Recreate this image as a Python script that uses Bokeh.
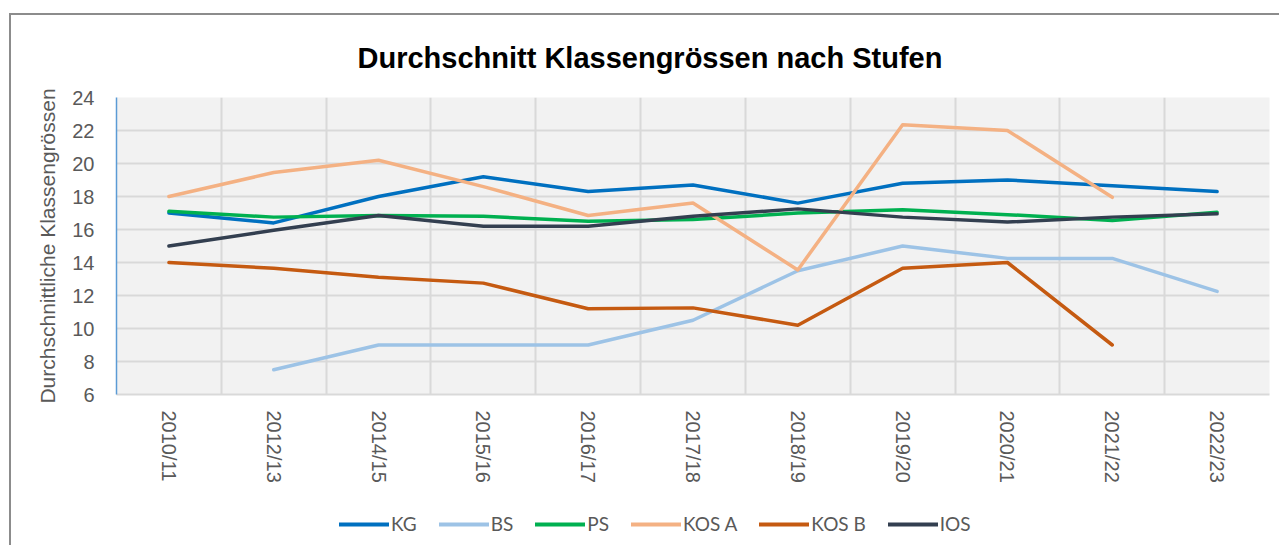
import numpy as np
from bokeh.plotting import figure
from bokeh.layouts import column
from bokeh.models import ColumnDataSource, FixedTicker, Legend, LegendItem, Range1d
from bokeh.embed import file_html
from bokeh.resources import INLINE

nan = np.nan
categories = ["2010/11", "2012/13", "2014/15", "2015/16", "2016/17", "2017/18",
              "2018/19", "2019/20", "2020/21", "2021/22", "2022/23"]
kg = [17.0, 16.4, 18.0, 19.2, 18.3, 18.7, 17.6, 18.8, 19.0, 18.65, 18.3]
bs = [nan, 7.5, 9.0, 9.0, 9.0, 10.5, 13.5, 15.0, 14.25, 14.25, 12.25]
ps = [17.1, 16.75, 16.85, 16.8, 16.5, 16.6, 17.0, 17.2, 16.9, 16.55, 17.05]
kos_a = [18.0, 19.45, 20.2, 18.6, 16.85, 17.6, 13.55, 22.35, 22.0, 17.95, nan]
kos_b = [14.0, 13.65, 13.1, 12.75, 11.2, 11.25, 10.2, 13.65, 14.0, 9.0, nan]
ios = [15.0, 15.95, 16.85, 16.2, 16.2, 16.8, 17.25, 16.75, 16.45, 16.75, 16.95]

series_names = ["KG", "BS", "PS", "KOS A", "KOS B", "IOS"]
series_values = [kg, bs, ps, kos_a, kos_b, ios]
series_colors = ["#0070C0", "#9DC3E6", "#00B050", "#F4B183", "#C55A11", "#333F50"]

FONT = "Liberation Sans"
GRAY = "#595959"
W = 1268

p = figure(width=W, height=470, output_backend="svg", toolbar_location=None,
           x_range=Range1d(-0.5, len(categories) - 0.5), y_range=Range1d(6, 24),
           min_border_left=105, min_border_right=10, min_border_top=81,
           min_border_bottom=90, background_fill_color="#F2F2F2",
           border_fill_color="white", outline_line_color=None)

p.title.text = "Durchschnitt Klassengrössen nach Stufen"
p.title.text_font = FONT
p.title.text_font_size = "29px"
p.title.text_font_style = "bold"
p.title.text_color = "black"
p.title.align = "left"
p.title.offset = 241
p.title.standoff = 48

x = np.arange(len(categories))

# axes
p.xaxis.ticker = FixedTicker(ticks=list(x))
p.xaxis.major_label_overrides = {int(i): c for i, c in enumerate(categories)}
p.xaxis.major_label_orientation = "vertical"
p.xaxis.major_label_text_font = FONT
p.xaxis.major_label_text_font_size = "20px"
p.xaxis.major_label_text_color = GRAY
p.xaxis.major_label_standoff = 10
p.xaxis.major_tick_line_color = None
p.xaxis.minor_tick_line_color = None
p.xaxis.axis_line_color = "#D9D9D9"
p.xaxis.axis_line_width = 2

p.yaxis.ticker = FixedTicker(ticks=list(range(6, 25, 2)))
p.yaxis.axis_label = "Durchschnittliche Klassengrössen"
p.yaxis.axis_label_text_font = FONT
p.yaxis.axis_label_text_font_size = "21px"
p.yaxis.axis_label_text_font_style = "normal"
p.yaxis.axis_label_text_color = GRAY
p.yaxis.axis_label_standoff = 10
p.yaxis.major_label_text_font = FONT
p.yaxis.major_label_text_font_size = "20px"
p.yaxis.major_label_text_color = GRAY
p.yaxis.major_label_standoff = 16
p.yaxis.major_tick_line_color = None
p.yaxis.minor_tick_line_color = None
p.yaxis.axis_line_color = "#5B9BD5"
p.yaxis.axis_line_width = 1.5

# grids
p.xgrid.ticker = FixedTicker(ticks=[i - 0.5 for i in range(len(categories) + 1)])
p.xgrid.grid_line_color = "#D9D9D9"
p.xgrid.grid_line_width = 2
p.ygrid.grid_line_color = "#D9D9D9"
p.ygrid.grid_line_width = 2

for name, vals, col in zip(series_names, series_values, series_colors):
    src = ColumnDataSource(dict(x=x, y=np.array(vals, dtype=float)))
    p.line("x", "y", source=src, line_color=col, line_width=3.5,
           line_cap="round", line_join="round")

# legend strip (separate canvas so it is never clipped)
lg = figure(width=W, height=60, output_backend="svg", toolbar_location=None,
            x_range=Range1d(0, 1), y_range=Range1d(0, 1),
            x_axis_type=None, y_axis_type=None,
            min_border_left=0, min_border_right=0, min_border_top=0,
            min_border_bottom=0, background_fill_color="white",
            border_fill_color="white", outline_line_color=None)
lg.grid.visible = False
items = []
for name, col in zip(series_names, series_colors):
    # legend proxy: a line with no drawable points, only its style is used
    r = lg.line(x=[nan], y=[nan], line_color=col, line_width=4, line_cap="round")
    items.append(LegendItem(label=name, renderers=[r]))

legend = Legend(items=items, orientation="horizontal", location=(223, 10),
                glyph_width=50, glyph_height=20, label_height=20, label_width=0,
                label_standoff=2, spacing=22, padding=0, margin=0,
                label_text_font="Lato", label_text_font_size="19px",
                label_text_color=GRAY, background_fill_alpha=0,
                border_line_color=None)
lg.add_layout(legend, "center")

layout = column(p, lg, spacing=0,
                styles={"margin-left": "9px", "margin-top": "13px",
                        "border-left": "2px solid #8C8C8C",
                        "border-top": "2px solid #8C8C8C"})

open("out.html", "w").write(file_html(layout, INLINE))
